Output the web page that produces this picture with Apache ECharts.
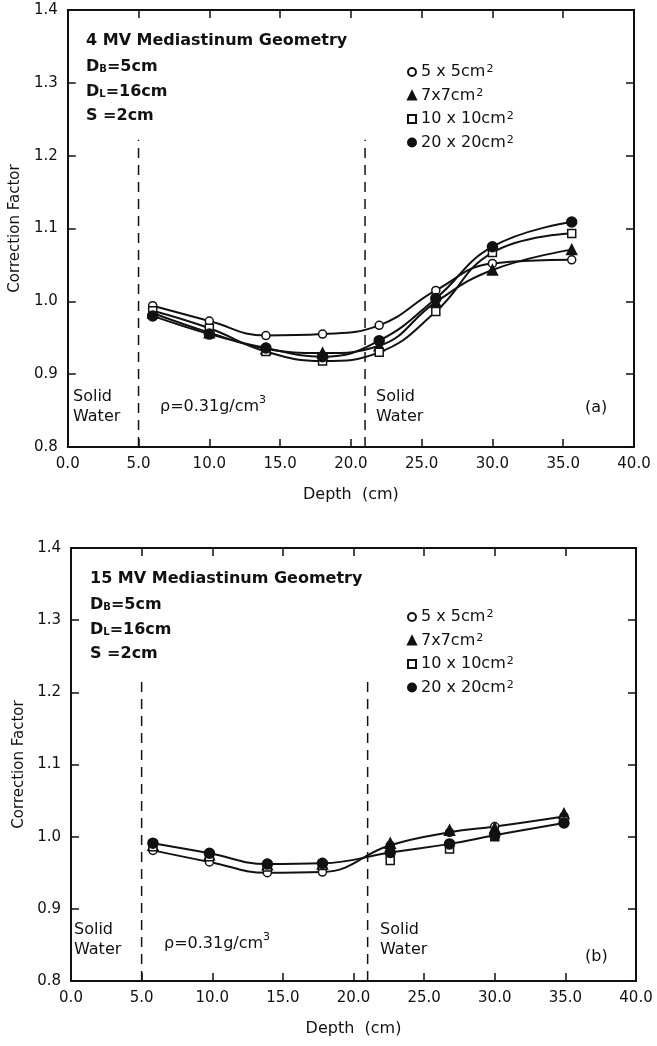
<!DOCTYPE html>
<html>
<head>
<meta charset="utf-8">
<script src="https://cdn.jsdelivr.net/npm/echarts@6/dist/echarts.min.js"></script>
<style>
  html, body { margin: 0; padding: 0; background: #fff; }
  #chart { width: 657px; height: 1046px; }
</style>
</head>
<body>
<div id="chart"></div>
<script>
// Field sizes (legend order)
const fieldSizes = ['5 x 5cm', '7x7cm', '10 x 10cm', '20 x 20cm'];

// Axis ticks
const depthTicks = [0, 5, 10, 15, 20, 25, 30, 35, 40];
const factorTicks = [0.8, 0.9, 1.0, 1.1, 1.2, 1.3, 1.4];

// Tissue interfaces (cm) and the height the dashed markers reach
const interfaces = [5, 21];
const interfaceTop = 1.222;

// (a) 4 MV measurements
const depthA = [6, 10, 14, 18, 22, 26, 30, 35.6];
const a5x5 = [0.994, 0.973, 0.953, 0.955, 0.967, 1.015, 1.052, 1.057];
const a7x7 = [0.984, 0.957, 0.935, 0.929, 0.939, 0.999, 1.043, 1.071];
const a10x10 = [0.987, 0.963, 0.931, 0.918, 0.930, 0.986, 1.067, 1.093];
const a20x20 = [0.980, 0.955, 0.936, 0.924, 0.946, 1.004, 1.075, 1.109];

// (b) 15 MV measurements
const depthB = [5.8, 9.8, 13.9, 17.8, 22.6, 26.8, 30, 34.9];
const b5x5 = [0.981, 0.965, 0.950, 0.951, 0.988, 1.006, 1.014, 1.028];
const b7x7 = [0.988, 0.975, 0.961, 0.962, 0.991, 1.009, 1.012, 1.032];
const b10x10 = [0.986, 0.972, 0.958, 0.960, 0.967, 0.983, 1.000, 1.022];
const b20x20 = [0.991, 0.977, 0.962, 0.963, 0.978, 0.990, 1.002, 1.019];

// Which field sizes get a fitted curve in each panel
const curvesA = ['5 x 5cm', '7x7cm', '10 x 10cm', '20 x 20cm'];
const curvesB = ['5 x 5cm', '20 x 20cm'];

const FONT = '"DejaVu Sans", Lato, sans-serif';
const INK = '#111';

const markerStyle = {
  '5 x 5cm':   { symbol: 'circle',   size: 8,  fill: '#fff' },
  '7x7cm':     { symbol: 'triangle', size: 10, fill: INK },
  '10 x 10cm': { symbol: 'rect',     size: 8,  fill: '#fff' },
  '20 x 20cm': { symbol: 'circle',   size: 10, fill: INK }
};

const panels = [
  {
    grid: { left: 67, top: 10, right: 23, height: 437 },
    depth: depthA,
    values: [a5x5, a7x7, a10x10, a20x20],
    curves: curvesA,
    title: ['4 MV Mediastinum Geometry', '5cm', '16cm', '2cm'],
    tag: '(a)', tagY: 408,
    legendTop: 59,
    notes: { solidY: 397, rhoX: 160, rhoY: 405, leftX: 73, rightX: 376 }
  },
  {
    grid: { left: 71, top: 548, right: 21, height: 433 },
    depth: depthB,
    values: [b5x5, b7x7, b10x10, b20x20],
    curves: curvesB,
    title: ['15 MV Mediastinum Geometry', '5cm', '16cm', '2cm'],
    tag: '(b)', tagY: 957,
    legendTop: 604,
    notes: { solidY: 930, rhoX: 164, rhoY: 942, leftX: 74, rightX: 380 }
  }
];

const grids = [], xAxes = [], yAxes = [], series = [], legends = [], graphics = [];

const tickStyle = { show: true, inside: true, length: 8, lineStyle: { color: INK, width: 1.5 } };
const lineStyle = { show: true, onZero: false, lineStyle: { color: INK, width: 2 } };

panels.forEach((p, i) => {
  grids.push(p.grid);
  const xb = xAxes.length, yb = yAxes.length;
  xAxes.push({
    type: 'value', gridIndex: i, position: 'bottom', min: depthTicks[0], max: depthTicks[depthTicks.length - 1], interval: 5,
    axisLine: lineStyle, axisTick: tickStyle, splitLine: { show: false },
    axisLabel: { color: INK, fontFamily: FONT, fontSize: 15, margin: 10, formatter: v => v.toFixed(1) },
    name: 'Depth  (cm)', nameLocation: 'middle', nameGap: 40,
    nameTextStyle: { color: INK, fontFamily: FONT, fontSize: 16 }
  });
  xAxes.push({
    type: 'value', gridIndex: i, position: 'top', min: depthTicks[0], max: depthTicks[depthTicks.length - 1], interval: 5,
    axisLine: lineStyle, axisTick: tickStyle, axisLabel: { show: false }, splitLine: { show: false }
  });
  yAxes.push({
    type: 'value', gridIndex: i, position: 'left', min: factorTicks[0], max: factorTicks[factorTicks.length - 1], interval: 0.1,
    axisLine: lineStyle, axisTick: tickStyle, splitLine: { show: false },
    axisLabel: { color: INK, fontFamily: FONT, fontSize: 15, margin: 10, formatter: v => v.toFixed(1) },
    name: 'Correction Factor', nameLocation: 'middle', nameGap: 44, nameRotate: 90,
    nameTextStyle: { color: INK, fontFamily: FONT, fontSize: 15 }
  });
  yAxes.push({
    type: 'value', gridIndex: i, position: 'right', min: factorTicks[0], max: factorTicks[factorTicks.length - 1], interval: 0.1,
    axisLine: lineStyle, axisTick: tickStyle, axisLabel: { show: false }, splitLine: { show: false }
  });

  // dashed interface markers
  interfaces.forEach(d => {
    series.push({
      type: 'line', xAxisIndex: xb, yAxisIndex: yb, silent: true, symbol: 'none',
      data: [[d, factorTicks[0]], [d, interfaceTop]],
      lineStyle: { color: INK, width: 1.5, type: [10, 7] }, z: 2
    });
  });

  // fitted curves
  fieldSizes.forEach((name, k) => {
    if (!p.curves.includes(name)) return;
    series.push({
      type: 'line', xAxisIndex: xb, yAxisIndex: yb, silent: true, symbol: 'none', smooth: 0.45,
      data: p.depth.map((d, j) => [d, p.values[k][j]]),
      lineStyle: { color: INK, width: 2 }, z: 3
    });
  });

  // measured points
  fieldSizes.forEach((name, k) => {
    const m = markerStyle[name];
    series.push({
      type: 'scatter', name: name, xAxisIndex: xb, yAxisIndex: yb,
      symbol: m.symbol, symbolSize: m.size,
      data: p.depth.map((d, j) => [d, p.values[k][j]]),
      itemStyle: { color: m.fill, borderColor: INK, borderWidth: 1.5, opacity: 1 }, z: 4 + k
    });
  });

  legends.push({
    orient: 'vertical', left: 402, top: p.legendTop, itemGap: 6.5, itemWidth: 8, itemHeight: 8,
    selectedMode: false, data: fieldSizes,
    formatter: name => '{t|' + name + '}{s|2}',
    textStyle: {
      color: INK, fontFamily: FONT, fontSize: 16,
      rich: {
        t: { fontFamily: FONT, fontSize: 16, color: INK, lineHeight: 16 },
        s: { fontFamily: FONT, fontSize: 11, color: INK, verticalAlign: 'top', lineHeight: 16, padding: [0, 0, 6, 1] }
      }
    }
  });

  const gTop = p.grid.top;
  const tx = p.grid.left + 19;
  const bold = { fontFamily: FONT, fontSize: 16, fontWeight: 'bold', fill: INK };
  graphics.push({ type: 'text', x: tx, y: gTop + 31, style: Object.assign({ text: p.title[0], verticalAlign: 'middle' }, bold) });
  const richBold = {
    m: { fontFamily: FONT, fontSize: 16, fontWeight: 'bold', fill: INK, lineHeight: 20, verticalAlign: 'bottom' },
    s: { fontFamily: FONT, fontSize: 10, fontWeight: 'bold', fill: INK, lineHeight: 20, verticalAlign: 'bottom', padding: [0, 0, 1, 0] }
  };
  graphics.push({ type: 'text', x: tx, y: gTop + 55, style: { text: '{m|D}{s|B}{m|=' + p.title[1] + '}', verticalAlign: 'middle', rich: richBold } });
  graphics.push({ type: 'text', x: tx, y: gTop + 80, style: { text: '{m|D}{s|L}{m|=' + p.title[2] + '}', verticalAlign: 'middle', rich: richBold } });
  graphics.push({ type: 'text', x: tx, y: gTop + 106, style: Object.assign({ text: 'S =' + p.title[3], verticalAlign: 'middle' }, bold) });

  const note = { fontFamily: FONT, fontSize: 16, fill: INK, lineHeight: 20 };
  const n = p.notes;
  graphics.push({ type: 'text', x: n.leftX, y: n.solidY - 10, style: Object.assign({ text: 'Solid\nWater' }, note) });
  graphics.push({ type: 'text', x: n.rightX, y: n.solidY - 10, style: Object.assign({ text: 'Solid\nWater' }, note) });
  graphics.push({ type: 'text', x: n.rhoX, y: n.rhoY, style: {
    text: '{m|ρ=0.31g/cm}{s|3}', verticalAlign: 'middle',
    rich: {
      m: { fontFamily: FONT, fontSize: 16, fill: INK, lineHeight: 20, verticalAlign: 'bottom' },
      s: { fontFamily: FONT, fontSize: 11, fill: INK, lineHeight: 20, verticalAlign: 'top' }
    }
  } });
  graphics.push({ type: 'text', x: 585, y: p.tagY, style: { text: p.tag, verticalAlign: 'middle', fontFamily: FONT, fontSize: 16, fill: INK } });
});

const chart = echarts.init(document.getElementById('chart'), null, { renderer: 'canvas' });
chart.setOption({
  animation: false,
  backgroundColor: '#fff',
  grid: grids,
  xAxis: xAxes,
  yAxis: yAxes,
  legend: legends,
  series: series,
  graphic: graphics
});
</script>
</body>
</html>
